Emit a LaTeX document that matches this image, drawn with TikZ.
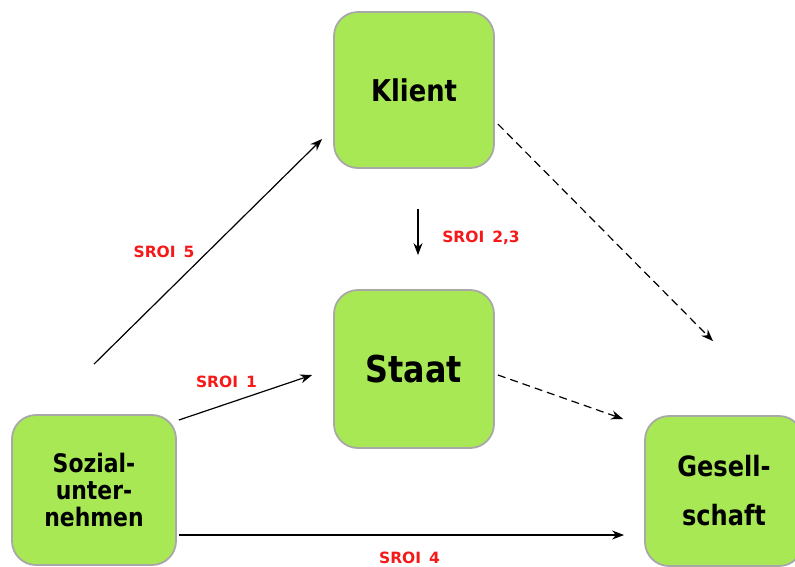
\documentclass[tikz,border=0pt]{standalone}
\usepackage{fontspec}
\setmainfont{DejaVu Sans}
\newfontfamily\boxfont[FakeStretch=0.86]{DejaVu Sans}
\usetikzlibrary{positioning,calc,arrows.meta}
\tikzset{>={Stealth[length=12pt,width=9pt]}}
\definecolor{boxgreen}{RGB}{168,232,84}
\definecolor{boxrim}{RGB}{168,168,168}
\definecolor{sroired}{RGB}{245,25,25}
\newcommand*{\sroi}[1]{SROI\hspace{8pt}#1}

\begin{document}
\begin{tikzpicture}[x=1pt,y=-1pt,
  actor/.style={draw=boxrim,line width=1.8pt,fill=boxgreen,rounded corners=24pt,align=center,inner sep=0pt},
  flow/.style={->,line width=1.2pt},
  spill/.style={->,line width=1.2pt,dash pattern=on 8pt off 5pt},
  tag/.style={text=sroired,font=\bfseries\fontsize{15.5}{18}\selectfont}]
\useasboundingbox (0,0) rectangle (795,566);

% The four actors
\node[actor,minimum width=160pt,minimum height=156pt,font=\boxfont\bfseries\fontsize{30}{34}\selectfont] (klient) at (414,90) {Klient};
\node[actor,minimum width=160pt,minimum height=158pt,font=\boxfont\bfseries\fontsize{37}{40}\selectfont] (staat) at (414,369) {Staat};
\node[actor,minimum width=164pt,minimum height=150pt,font=\boxfont\bfseries\fontsize{25.5}{27}\selectfont] (sozial) at (94,490) {Sozial-\\unter-\\nehmen};
\node[actor,minimum width=158pt,minimum height=150pt,font=\boxfont\bfseries\fontsize{28}{49}\selectfont] (gesell) at (724,491) {Gesell-\\schaft};

% Value flows
\draw[flow] ([yshift=50pt]sozial.north) -- node[tag,xshift=-44pt] {\sroi{5}} ([xshift=-11pt,yshift=-49pt]klient.west);
\draw[spill] ([xshift=3pt,yshift=-34pt]klient.east) -- ([xshift=-11pt,yshift=74pt]gesell.north);
\draw[flow] ([xshift=4pt,yshift=-40pt]klient.south) -- node[tag,xshift=63pt,yshift=-6pt] {\sroi{2,3}} ([xshift=4pt,yshift=34pt]staat.north);
\draw[flow] ([xshift=2pt,yshift=70pt]sozial.east) -- node[tag,xshift=-19pt,yshift=16pt] {\sroi{1}} ([xshift=-21pt,yshift=-6pt]staat.west);
\draw[spill] ([xshift=3pt,yshift=-6pt]staat.east) -- ([xshift=-21pt,yshift=72pt]gesell.west);
\draw[flow] ([xshift=2pt,yshift=-45pt]sozial.east) -- node[tag,xshift=8pt,yshift=-23pt] {\sroi{4}} ([xshift=-20pt,yshift=-44pt]gesell.west);

\end{tikzpicture}
\end{document}
